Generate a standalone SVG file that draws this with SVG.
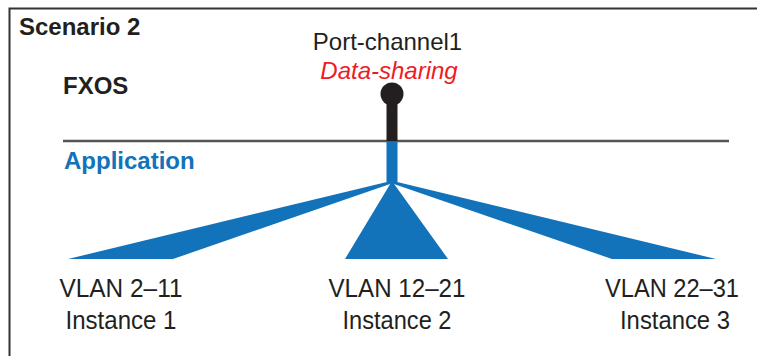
<svg xmlns="http://www.w3.org/2000/svg" width="757" height="356" viewBox="0 0 757 356">
<style>
.t{font-family:"Liberation Sans",Arial,sans-serif;fill:#231f20}
.b{font-weight:bold}
.lbl{font-size:26px;text-anchor:middle}
.blue{fill:#1272ba}
</style>
<rect width="757" height="356" fill="#fff"/>
<g id="frame">
<path d="M9.5 356 V8.5 H757" fill="none" stroke="#333" stroke-width="2"/>
<text class="t b" x="19" y="35" font-size="24">Scenario 2</text>
</g>
<g id="fxos">
<text class="t b" x="63" y="94" font-size="24">FXOS</text>
<line x1="63" y1="141" x2="729" y2="141" stroke="#555" stroke-width="2.5"/>
</g>
<g id="application">
<text class="t b" x="64" y="169" font-size="24" style="fill:#1272ba">Application</text>
</g>
<g id="port-channel">
<text class="t" x="387.5" y="50" font-size="24" text-anchor="middle">Port-channel1</text>
<text class="t" x="389" y="79" font-size="24" font-style="italic" text-anchor="middle" style="fill:#ed1c24">Data-sharing</text>
<circle cx="392" cy="94" r="11.5" fill="#231f20"/>
<rect x="386.5" y="94" width="11" height="47" fill="#231f20"/>
</g>
<g id="connectors">
<rect class="blue" x="386.5" y="142" width="11" height="40"/>
<polygon class="blue" points="391,181 68,259 173,259 393,183"/>
<polygon class="blue" points="392,181 345,259 448,259"/>
<polygon class="blue" points="393,181 716,259 612,259 391,183"/>
</g>
<g id="instance1">
<text class="t lbl" x="121" y="297" textLength="123" lengthAdjust="spacingAndGlyphs">VLAN 2–11</text>
<text class="t lbl" x="121" y="329" textLength="111" lengthAdjust="spacingAndGlyphs">Instance 1</text>
</g>
<g id="instance2">
<text class="t lbl" x="397" y="297" textLength="137" lengthAdjust="spacingAndGlyphs">VLAN 12–21</text>
<text class="t lbl" x="397" y="329" textLength="109" lengthAdjust="spacingAndGlyphs">Instance 2</text>
</g>
<g id="instance3">
<text class="t lbl" x="672" y="297" textLength="134" lengthAdjust="spacingAndGlyphs">VLAN 22–31</text>
<text class="t lbl" x="675" y="329" textLength="110" lengthAdjust="spacingAndGlyphs">Instance 3</text>
</g>
</svg>
